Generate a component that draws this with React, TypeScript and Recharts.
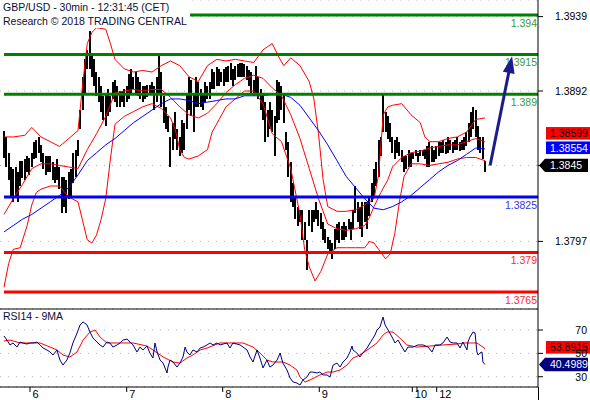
import React from 'react';
import { ComposedChart, Bar, Line, XAxis, YAxis, CartesianGrid, ReferenceLine } from 'recharts';

// ---------- data (prices in pips: 1/10000) ----------
const barHigh = [
  13867,13863,13853,13844,13843,13844,13841,13848,13848,13849,
  13851,13850,13853,13860,13861,13863,13858,13853,13851,13851,
  13851,13847,13844,13849,13844,13838,13838,13836,13841,13843,
  13853,13855,13861,13880,13901,13912,13918,13930,13916,13912,
  13904,13901,13895,13889,13891,13893,13889,13898,13899,13895,
  13892,13892,13893,13895,13903,13906,13901,13904,13901,13898,
  13895,13895,13896,13896,13898,13895,13901,13914,13904,13889,
  13882,13876,13863,13872,13879,13868,13863,13874,13872,13891,
  13901,13899,13891,13901,13898,13893,13891,13898,13895,13898,
  13906,13904,13907,13906,13904,13906,13907,13908,13910,13906,
  13908,13909,13910,13910,13909,13908,13905,13904,13899,13908,
  13901,13893,13891,13885,13880,13885,13880,13876,13899,13898,
  13895,13891,13866,13860,13847,13834,13825,13819,13817,13817,
  13809,13798,13817,13817,13817,13822,13817,13815,13809,13805,
  13800,13798,13796,13805,13808,13809,13807,13809,13807,13811,
  13809,13817,13832,13822,13819,13822,13822,13822,13825,13834,
  13843,13847,13861,13863,13890,13879,13876,13872,13863,13861,
  13863,13860,13855,13851,13851,13855,13853,13853,13855,13853,
  13855,13855,13855,13857,13860,13857,13855,13857,13860,13860,
  13861,13860,13863,13861,13860,13861,13863,13860,13861,13863,
  13866,13872,13879,13882,13880,13870,13863,13863,13848,
];
const barLow = [
  13850,13844,13836,13825,13822,13825,13822,13832,13837,13836,
  13841,13839,13844,13849,13850,13853,13847,13843,13839,13841,
  13841,13836,13834,13836,13830,13815,13819,13815,13824,13825,
  13834,13838,13851,13868,13880,13891,13906,13906,13901,13895,
  13889,13885,13879,13874,13870,13876,13879,13887,13885,13882,
  13882,13885,13882,13885,13887,13891,13893,13891,13889,13887,
  13885,13887,13888,13890,13890,13880,13885,13891,13882,13872,
  13868,13866,13844,13855,13862,13855,13851,13853,13855,13868,
  13880,13876,13866,13882,13882,13882,13880,13885,13887,13887,
  13893,13893,13895,13895,13898,13895,13898,13898,13899,13895,
  13899,13901,13901,13901,13901,13899,13895,13891,13889,13891,
  13887,13880,13874,13860,13863,13868,13866,13851,13872,13874,
  13880,13872,13855,13838,13822,13819,13811,13807,13809,13798,
  13798,13779,13807,13803,13809,13811,13807,13805,13798,13796,
  13792,13790,13786,13792,13798,13796,13798,13798,13800,13805,
  13798,13805,13815,13809,13805,13800,13809,13805,13813,13822,
  13825,13832,13838,13851,13866,13866,13862,13860,13853,13849,
  13853,13851,13847,13841,13843,13844,13844,13849,13851,13847,
  13851,13851,13849,13844,13844,13847,13847,13849,13851,13853,
  13853,13852,13853,13855,13853,13855,13855,13854,13855,13855,
  13857,13860,13863,13868,13863,13855,13853,13849,13841,
];

// blue moving average, one value every 4 bars
const maBlue = [
  13803,13807,13811,13814,13818,13822,13826,13831,13839,13848,
  13853,13858,13862,13867,13872,13876,13880,13884,13887,13887,
  13886,13884,13885,13886,13887,13887,13889,13889,13889,13890,
  13890,13888,13883,13875,13867,13858,13848,13838,13831,13824,
  13818,13817,13819,13822,13826,13831,13836,13841,13845,13848,
  13852,13856,13855.4,
];

// Bollinger bands: [bar index, price in pips]
const upperBand = [
  [0,13863],[4,13863],[9,13864],[12,13869],[16,13863],[20,13860],[24,13857],[28,13862],[32,13867],[34,13896],
  [36,13922],[38,13929],[40,13932],[44,13931],[46,13922],[48,13912],[52,13906],[56,13904],[60,13905],[64,13904],
  [68,13908],[72,13911],[76,13908],[80,13901],[84,13898],[88,13908],[92,13912],[96,13911],[100,13912],[104,13911],
  [108,13910],[112,13918],[116,13922],[119,13913],[121,13908],[124,13913],[128,13908],[132,13898],[134,13887],[136,13865],
  [138,13836],[140,13819],[144,13816],[148,13816],[152,13817],[156,13820],[160,13824],[162,13839],[164,13877],[166,13882],
  [168,13883],[172,13884],[176,13877],[180,13872],[182,13863],[184,13860],[188,13860],[192,13862],[196,13863],[200,13866],
  [204,13874],[208,13875],
];
const middleBand = [
  [0,13814],[4,13824],[8,13833],[12,13843],[16,13846],[20,13846],[24,13845],[28,13844],[32,13843],[36,13855],
  [40,13865],[44,13876],[48,13891],[52,13892],[56,13893],[60,13892],[64,13893],[68,13893],[72,13888],[76,13882],
  [80,13877],[84,13875],[88,13878],[92,13884],[96,13891],[100,13896],[104,13900],[108,13902],[112,13900],[116,13894],
  [120,13889],[124,13877],[128,13862],[132,13843],[136,13824],[140,13808],[144,13805],[148,13804],[152,13805],[156,13807],
  [158,13812],[160,13819],[163,13828],[166,13836],[168,13844],[172,13850],[176,13853],[180,13854],[184,13856],[188,13857],
  [192,13858],[196,13858],[200,13860],[204,13862],[208,13859.9],
];
const lowerBand = [
  [0,13768],[2,13783],[4,13792],[7,13793],[10,13807],[12,13820],[14,13828],[16,13830],[20,13832],[24,13832],
  [28,13825],[32,13822],[34,13810],[36,13798],[38,13796],[40,13801],[42,13811],[44,13824],[46,13849],[48,13871],
  [52,13876],[56,13879],[60,13882],[64,13884],[68,13881],[72,13875],[74,13868],[76,13855],[78,13850],[80,13849],
  [84,13851],[88,13855],[90,13866],[93,13874],[96,13882],[100,13887],[104,13892],[108,13892],[112,13884],[116,13865],
  [120,13860],[124,13843],[128,13814],[130,13792],[132,13781],[134.5,13772],[137,13778],[140,13789],[144,13793],[148,13793],
  [152,13793],[156,13793],[158,13797],[160,13796],[163,13790],[165,13786],[167,13789],[169,13802],[171,13822],[173,13838],
  [176,13846],[180,13846],[184,13845],[188,13846],[192,13847],[196,13849],[200,13850],[204,13850],[208,13848],
];

// RSI14 and its 9-period MA: [bar index, value]
const rsiLine = [
  [0,64.9],[1.3,61.4],[2.6,57.2],[3.9,58.9],[5.6,55.4],[6.9,59.7],[8.2,58.9],[9.9,58.0],[11.2,58.9],[12.5,58.9],
  [14.3,59.7],[15.6,57.2],[16.9,54.6],[18.6,52.9],[19.9,51.2],[21.2,48.6],[22.9,52.9],[24.2,44.3],[25.5,40.0],[27.2,44.3],
  [28.5,50.3],[29.8,58.9],[31.6,67.4],[32.9,74.3],[34.2,76.9],[35.9,74.3],[37.2,68.3],[38.5,63.1],[40.2,59.7],[41.5,57.2],
  [42.8,55.4],[44.5,59.7],[45.8,58.9],[47.1,55.4],[48.9,57.2],[50.2,58.9],[51.5,61.4],[53.2,62.3],[54.5,59.7],[55.8,57.2],
  [57.5,51.2],[58.8,55.4],[60.1,52.9],[61.8,56.3],[63.1,50.3],[64.4,46.0],[65.3,58.9],[66.2,51.2],[67.5,44.3],[68.8,41.7],
  [70.5,33.2],[70.9,38.3],[71.8,44.3],[73.1,42.6],[74.8,38.3],[76.1,41.7],[77.4,46.9],[78.3,55.4],[79.1,51.2],[80.4,48.6],
  [81.7,52.9],[83.5,51.2],[84.8,54.6],[86.1,55.4],[87.8,57.2],[89.1,58.9],[90.4,57.2],[92.1,58.9],[93.4,57.2],[96.4,58.9],
  [97.7,54.6],[99.0,58.9],[102.1,57.2],[105.1,52.9],[106.4,46.9],[107.7,42.6],[109.4,52.9],[110.7,46.0],[112.0,37.5],[113.7,44.3],
  [115.0,38.3],[116.3,40.0],[118.1,44.3],[119.4,50.3],[120.6,41.7],[122.4,35.7],[123.7,28.9],[125.0,25.5],[126.7,24.6],[128.0,22.9],
  [129.3,27.2],[131.0,29.7],[132.3,34.0],[133.6,34.0],[135.4,33.2],[136.6,34.0],[138.0,31.5],[139.7,31.5],[141.0,29.7],[142.3,40.0],
  [144.0,41.7],[145.3,38.3],[146.6,42.6],[148.3,46.0],[149.6,51.2],[150.5,56.3],[150.9,52.9],[152.6,50.3],[153.9,46.9],[155.2,50.3],
  [157.0,54.6],[158.3,58.9],[159.6,63.1],[160.4,65.7],[161.3,70.0],[162.6,72.6],[163.9,81.1],[164.8,74.3],[166.1,70.0],[167.8,64.0],
  [169.1,58.9],[170.4,61.4],[172.1,55.4],[173.4,51.2],[174.7,55.4],[176.9,55.4],[179.0,57.2],[181.2,57.2],[183.4,55.4],[185.1,51.2],
  [186.4,57.2],[188.5,57.2],[189.8,58.9],[191.6,64.0],[192.9,59.7],[194.2,58.9],[195.9,58.9],[197.2,54.6],[198.5,59.7],[200.2,52.9],
  [200.6,59.7],[201.5,64.0],[202.8,68.3],[203.7,67.4],[204.5,51.2],[205.0,48.6],[205.8,50.3],[206.7,51.2],[207.1,42.6],[208.0,40.4989],
];
const rsiMa = [
  [0,60.6],[2.6,61.4],[6.9,58.9],[11.2,58.9],[15.6,58.9],[19.9,55.4],[22.9,52.9],[25.5,48.6],[28.5,46.9],[31.6,51.2],
  [34.2,61.4],[37.2,68.3],[39.4,70.0],[41.5,64.0],[44.5,58.9],[50.2,58.9],[55.8,58.9],[61.8,56.3],[64.4,52.9],[68.8,46.9],
  [73.1,42.6],[76.1,41.7],[79.1,46.0],[81.7,48.6],[84.8,52.9],[87.8,54.6],[93.4,58.9],[99.0,58.9],[103.4,58.9],[107.7,55.4],
  [110.7,50.3],[113.7,44.3],[116.3,42.6],[120.6,42.6],[123.7,40.0],[126.7,35.7],[128.0,29.7],[130.2,25.5],[132.3,27.2],[136.6,31.5],
  [139.7,34.0],[142.3,34.0],[145.3,35.7],[148.3,40.0],[150.9,46.0],[153.9,48.6],[158.3,54.6],[161.3,58.9],[163.9,65.7],[165.6,68.3],
  [168.2,68.3],[171.2,63.1],[174.2,57.2],[178.6,55.4],[184.2,56.3],[189.8,57.2],[195.9,58.0],[198.5,58.9],[201.5,58.9],[204.5,58.9],
  [207.1,55.4],[208.0,53.8915],
];

// axis ticks / labels
const dayTicks = [11.24, 53.06, 94.57, 136.35, 176.56, 178.59, 187.11];
const dayLabels = ['6', '7', '8', '9', '10', '', '12'];
const priceTicks = [1.3939, 1.3892, 1.3845, 1.3797];
const rsiTicks = [30, 50, 70];

const levelPrices = [1.394, 1.3915, 1.389, 1.3825, 1.379, 1.3765];
const levelLabels = ['1.394', '1.3915', '1.389', '1.3825', '1.379', '1.3765'];
const levelKinds = ['res', 'res', 'res', 'piv', 'sup', 'sup'];

const priceTagValues = [1.38599, 1.38554, 1.3845];
const priceTagTexts = ['1.38599', '1.38554', '1.3845'];
const rsiTagValues = [53.8915, 40.4989];
const rsiTagTexts = ['53.8915', '40.4989'];

const arrowFrom = { k: 210.2, p: 1.3845 };
const arrowTo = { k: 219.7, p: 1.3914 };

// ---------- styling ----------
const FONT = '"Liberation Sans", Arial, sans-serif';
const X_DOMAIN: [number, number] = [-1.73, 230.92];
const PRICE_DOMAIN: [number, number] = [1.37543, 1.39495];
const RSI_DOMAIN: [number, number] = [21.2, 88];
const kindStyle: Record<string, { line: string; text: string }> = {
  res: { line: '#008000', text: '#3a9a3a' },
  piv: { line: '#0000ff', text: '#3434e8' },
  sup: { line: '#ff0000', text: '#ff2a2a' },
};

// ---------- built tables ----------
const bars = barHigh.map((h, i) => ({ k: i, hl: [barLow[i] / 10000, h / 10000] }));
const maData = maBlue.map((v, i) => ({ k: i * 4, v: v / 10000 }));
const toPrice = (arr: number[][]) => arr.map(([k, v]) => ({ k, v: v / 10000 }));
const upperData = toPrice(upperBand);
const middleData = toPrice(middleBand);
const lowerData = toPrice(lowerBand);
const toPts = (arr: number[][]) => arr.map(([k, v]) => ({ k, v }));
const rsiData = toPts(rsiLine);
const rsiMaData = toPts(rsiMa);

const PriceTick = (p: any) => {
  const v = p.payload.value;
  if (Math.abs(v - 1.3845) < 1e-7) return <g />;
  return (
    <text x={587} y={p.y} dy={3.8} textAnchor="end" fontSize={10.5} fontFamily={FONT} fill="#000">
      {v.toFixed(4)}
    </text>
  );
};
const RsiTick = (p: any) => (
  <text x={587} y={p.y} dy={3.8} textAnchor="end" fontSize={10.5} fontFamily={FONT} fill="#000">
    {p.payload.value}
  </text>
);
const DayTick = (p: any) => {
  const i = dayTicks.findIndex((t) => Math.abs(t - p.payload.value) < 1e-6);
  return (
    <text x={p.x + 2.5} y={p.y} dy={6} fontSize={11} fontFamily={FONT} fill="#000">
      {i >= 0 ? dayLabels[i] : ''}
    </text>
  );
};

const BarShape = (p: any) => {
  if (p.height == null || p.width == null) return <g />;
  const cx = p.x + p.width / 2;
  return (
    <rect
      x={Math.round(cx - 1)}
      y={Math.min(p.y, p.y + p.height)}
      width={2}
      height={Math.max(1, Math.abs(p.height))}
      fill="#000"
      shapeRendering="crispEdges"
    />
  );
};

const levelShape = (label: string, kind: string) => (p: any) => (
  <g>
    <line x1={p.x1} y1={p.y1} x2={p.x2} y2={p.y2} stroke={kindStyle[kind].line} strokeWidth={3} />
    <text x={Math.max(p.x1, p.x2) - 1} y={p.y1 + 11.5} textAnchor="end" fontSize={10.5} fontFamily={FONT} fill={kindStyle[kind].text}>
      {label}
    </text>
  </g>
);

const rectTag = (text: string, bg: string, fg: string, shift: number) => (p: any) => {
  const y = p.y1 + shift;
  const x = Math.max(p.x1, p.x2);
  return (
    <g>
      <rect x={x + 8} y={y - 6.3} width={44} height={12.6} fill={bg} />
      <text x={x + 12} y={y + 3.9} fontSize={10.5} fontFamily={FONT} fill={fg}>{text}</text>
    </g>
  );
};
const arrowTag = (text: string, bg: string, fg: string) => (p: any) => {
  const y = p.y1;
  const x = Math.max(p.x1, p.x2);
  return (
    <g>
      <path d={`M${x + 1},${y} L${x + 7},${y - 6.7} L${x + 50},${y - 6.7} L${x + 50},${y + 6.7} L${x + 7},${y + 6.7} Z`} fill={bg} />
      <text x={x + 12} y={y + 3.9} fontSize={10.5} fontFamily={FONT} fill={fg}>{text}</text>
    </g>
  );
};

const arrowShape = (p: any) => {
  const dx = p.x2 - p.x1;
  const dy = p.y2 - p.y1;
  const len = Math.sqrt(dx * dx + dy * dy);
  const ux = dx / len;
  const uy = dy / len;
  const head = 17;
  const half = 6;
  const bx = p.x2 - ux * head;
  const by = p.y2 - uy * head;
  return (
    <g>
      <line x1={p.x1} y1={p.y1} x2={bx + ux * 2} y2={by + uy * 2} stroke="#1c1c8a" strokeWidth={3} />
      <path d={`M${p.x2},${p.y2} L${bx - uy * half},${by + ux * half} L${bx + uy * half},${by - ux * half} Z`} fill="#1c1c8a" />
    </g>
  );
};

const tagStyles = [
  { bg: '#ff0000', fg: '#000', shift: -8.5, arrow: false },
  { bg: '#0000ff', fg: '#fff', shift: -1.2, arrow: false },
  { bg: '#000000', fg: '#fff', shift: 0, arrow: true },
];
const rsiTagStyles = [
  { bg: '#ff0000', fg: '#000', arrow: false },
  { bg: '#000080', fg: '#fff', arrow: true },
];

export default function App() {
  return (
    <div style={{ position: 'absolute', left: 0, top: 0, width: 590, height: 400, background: '#fff', overflow: 'hidden', fontFamily: FONT }}>
      <div style={{ position: 'absolute', left: 0, top: 0 }}>
        <ComposedChart width={590} height={309} data={bars} margin={{ top: 0, right: 0, bottom: 0, left: 0 }}>
          <CartesianGrid vertical={false} stroke="#b0b0b0" strokeDasharray="1 7" />
          <XAxis type="number" dataKey="k" domain={X_DOMAIN} hide allowDataOverflow />
          <YAxis
            orientation="right"
            width={52}
            domain={PRICE_DOMAIN}
            ticks={priceTicks}
            interval={0}
            allowDataOverflow
            tickSize={5}
            axisLine={{ stroke: '#000' }}
            tickLine={{ stroke: '#000' }}
            tick={PriceTick}
          />
          <Bar dataKey="hl" fill="#000" barSize={2} shape={BarShape} isAnimationActive={false} />
          <Line data={upperData} dataKey="v" type="linear" stroke="#ff0000" strokeWidth={1} dot={false} isAnimationActive={false} />
          <Line data={middleData} dataKey="v" type="linear" stroke="#ff0000" strokeWidth={1} dot={false} isAnimationActive={false} />
          <Line data={lowerData} dataKey="v" type="linear" stroke="#ff0000" strokeWidth={1} dot={false} isAnimationActive={false} />
          <Line data={maData} dataKey="v" type="linear" stroke="#0000ff" strokeWidth={1} dot={false} isAnimationActive={false} />
          {levelPrices.map((lp, i) => (
            <ReferenceLine
              key={'lv' + i}
              segment={[{ x: 0, y: lp }, { x: X_DOMAIN[1], y: lp }]}
              shape={levelShape(levelLabels[i], levelKinds[i])}
            />
          ))}
          <ReferenceLine
            segment={[{ x: arrowFrom.k, y: arrowFrom.p }, { x: arrowTo.k, y: arrowTo.p }]}
            shape={arrowShape}
          />
          {priceTagValues.map((v, i) => (
            <ReferenceLine
              key={'pt' + i}
              y={v}
              shape={tagStyles[i].arrow
                ? arrowTag(priceTagTexts[i], tagStyles[i].bg, tagStyles[i].fg)
                : rectTag(priceTagTexts[i], tagStyles[i].bg, tagStyles[i].fg, tagStyles[i].shift)}
            />
          ))}
        </ComposedChart>
      </div>

      <div style={{ position: 'absolute', left: 0, top: 308 }}>
        <ComposedChart width={590} height={92} margin={{ top: 1, right: 0, bottom: 0, left: 0 }}>
          <CartesianGrid vertical={false} stroke="#b0b0b0" strokeDasharray="1 7" />
          <XAxis
            type="number"
            dataKey="k"
            domain={X_DOMAIN}
            allowDataOverflow
            ticks={dayTicks}
            interval={0}
            height={13}
            tickSize={5}
            tickMargin={0}
            axisLine={{ stroke: '#000' }}
            tickLine={{ stroke: '#000' }}
            tick={DayTick}
          />
          <YAxis
            orientation="right"
            width={52}
            domain={RSI_DOMAIN}
            ticks={rsiTicks}
            interval={0}
            allowDataOverflow
            tickSize={5}
            axisLine={{ stroke: '#000' }}
            tickLine={{ stroke: '#000' }}
            tick={RsiTick}
          />
          <ReferenceLine y={RSI_DOMAIN[1]} stroke="#000" strokeWidth={1} />
          <Line data={rsiMaData} dataKey="v" type="linear" stroke="#ff0000" strokeWidth={1} dot={false} isAnimationActive={false} />
          <Line data={rsiData} dataKey="v" type="linear" stroke="#000080" strokeWidth={1} dot={false} isAnimationActive={false} />
          {rsiTagValues.map((v, i) => (
            <ReferenceLine
              key={'rt' + i}
              y={v}
              shape={rsiTagStyles[i].arrow
                ? arrowTag(rsiTagTexts[i], rsiTagStyles[i].bg, rsiTagStyles[i].fg)
                : rectTag(rsiTagTexts[i], rsiTagStyles[i].bg, rsiTagStyles[i].fg, -1.5)}
            />
          ))}
        </ComposedChart>
      </div>

      <div style={{ position: 'absolute', left: 538, top: 387, width: 1, height: 13, background: '#000' }} />

      <div style={{ position: 'absolute', left: 0, top: 0, background: '#fff', padding: '0 3px', fontSize: 10.5, lineHeight: '14px', color: '#0d0d35', whiteSpace: 'nowrap' }}>
        <div>GBP/USD - 30min - 12:31:45 (CET)</div>
        <div>Research © 2018 TRADING CENTRAL</div>
      </div>
      <div style={{ position: 'absolute', left: 3, top: 310, fontSize: 10.5, lineHeight: '13px', color: '#0d0d35', whiteSpace: 'nowrap' }}>
        RSI14 - 9MA
      </div>
    </div>
  );
}
